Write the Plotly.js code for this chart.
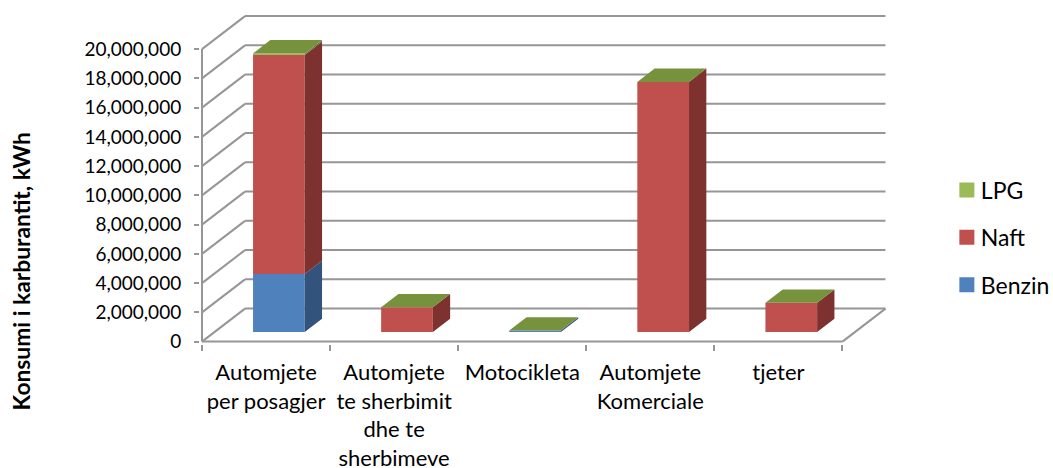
<!DOCTYPE html>
<html>
<head>
<meta charset="utf-8">
<script src="https://cdn.plot.ly/plotly-3.0.1.min.js"></script>
<style>html,body{margin:0;padding:0;background:#fff;overflow:hidden}</style>
</head>
<body>
<div id="chart" style="width:1053px;height:468px"></div>
<script>
const categories = ["Automjete<br>per posagjer", "Automjete<br>te sherbimit<br>dhe te<br>sherbimeve", "Motocikleta", "Automjete<br>Komerciale", "tjeter"];
const benzin = [3970000, 0, 100000, 0, 0];
const naft = [14970000, 1690000, 0, 17100000, 2000000];
const lpg = [110000, 0, 0, 0, 0];
const yTicks = [0, 2000000, 4000000, 6000000, 8000000, 10000000, 12000000, 14000000, 16000000, 18000000, 20000000];
const seriesNames = ["Benzin", "Naft", "LPG"];
const seriesValues = [benzin, naft, lpg];
const frontColors = ["#4F81BD", "#C0504D", "#9BBB59"];
const sideColors = ["#32547C", "#7D3230", "#667B3A"];
const topColor = "#76923C";

// Fake-3D projection, in axis units
const pxX = 128.1, pxY = 14.625 / 1e6;
const wallDx = 43 / pxX, wallDy = 33 / pxY;
const barW = 51.7 / pxX, barDx = 17.3 / pxX, barDy = 13.3 / pxY;
const offX = 12.85 / pxX, offY = 9.6 / pxY;
const n = categories.length;
const cx = categories.map((_, i) => i + 0.5 + offX);

const shapes = [];
const line = (x0, y0, x1, y1) => shapes.push({type: "line", layer: "below", xref: "x", yref: "y", x0, y0, x1, y1, line: {color: "#969696", width: 2}});
yTicks.forEach(v => {
  line(0, v, wallDx, v + wallDy);
  line(wallDx, v + wallDy, n + wallDx, v + wallDy);
});
line(0, 0, 0, yTicks[yTicks.length - 1]);
line(0, 0, n, 0);
line(n, 0, n + wallDx, wallDy);

const barTraces = [];
const cum = categories.map(() => offY);
const sideTraces = [];
seriesNames.forEach((name, s) => {
  const vals = seriesValues[s];
  const base = cum.slice();
  barTraces.unshift({type: "bar", name, x: cx, y: vals, base, width: barW, legendgroup: name,
    marker: {color: frontColors[s], line: {width: 0}}, hoverinfo: "name+y"});
  const sx = [], sy = [];
  vals.forEach((v, i) => {
    const b = cum[i], t = b + v;
    if (v > 0) {
      const xr = cx[i] + barW / 2;
      sx.push(xr, xr + barDx, xr + barDx, xr, xr, null);
      sy.push(b, b + barDy, t + barDy, t, b, null);
    }
    cum[i] = t;
  });
  sideTraces.push({type: "scatter", mode: "lines", x: sx, y: sy, fill: "toself", fillcolor: sideColors[s],
    line: {width: 0, color: sideColors[s]}, showlegend: false, hoverinfo: "skip"});
});
const tx = [], ty = [];
cum.forEach((t, i) => {
  const xl = cx[i] - barW / 2, xr = cx[i] + barW / 2;
  tx.push(xl, xr, xr + barDx, xl + barDx, xl, null);
  ty.push(t, t, t + barDy, t + barDy, t, null);
});
const topTrace = {type: "scatter", mode: "lines", x: tx, y: ty, fill: "toself", fillcolor: topColor,
  line: {width: 0, color: topColor}, showlegend: false, hoverinfo: "skip"};

const fam = "Lato, sans-serif";
const layout = {
  width: 1053, height: 468, paper_bgcolor: "#fff", plot_bgcolor: "rgba(0,0,0,0)",
  margin: {l: 200, r: 163, t: 14, b: 124, pad: 0},
  barmode: "overlay", font: {family: fam, size: 18, color: "#000"}, showlegend: true,
  xaxis: {range: [-2 / pxX, 5.371], showgrid: false, zeroline: false, showline: false,
    tickmode: "array", tickvals: categories.map((_, i) => i + 0.5), ticktext: categories,
    ticks: "", ticklen: 0, tickangle: 0, tickfont: {family: fam, size: 22, color: "#000"}, ticklabelstandoff: 13,
    minor: {tickmode: "array", tickvals: categories.map((_, i) => i).concat([n]), ticks: "outside", ticklen: 6, tickwidth: 2, tickcolor: "#969696", showgrid: false}},
  yaxis: {range: [-2.4 / pxY, 327.6 / pxY], showgrid: false, zeroline: false, showline: false,
    tickmode: "array", tickvals: yTicks, tickformat: ",d", ticks: "outside", ticklen: 5, tickwidth: 2, tickcolor: "#969696", tickfont: {family: fam, size: 19, color: "#000"}, ticklabelstandoff: 9},
  legend: {xref: "container", yref: "container", x: 0.8935, xanchor: "left", y: 0.4925, yanchor: "middle", traceorder: "grouped", tracegroupgap: 14.5,
    font: {family: fam, size: 23, color: "#000"}, bgcolor: "rgba(0,0,0,0)"},
  annotations: [{text: "<b>Konsumi i karburantit, kWh</b>", xref: "paper", yref: "paper", x: -179 / 690, y: 0.22, textangle: -90, showarrow: false,
    font: {family: fam, size: 22.8, color: "#000"}, xanchor: "center", yanchor: "middle"}],
  shapes
};
const el = document.getElementById("chart");
Plotly.newPlot(el, barTraces.concat(sideTraces, [topTrace]), layout, {displayModeBar: false, staticPlot: true}).then(() => {
  el.querySelectorAll(".legend .legendpoints path").forEach(p => {
    p.setAttribute("d", "M13.5,7.5H-1.5V-7.5H13.5Z");
  });
});
</script>
</body>
</html>
